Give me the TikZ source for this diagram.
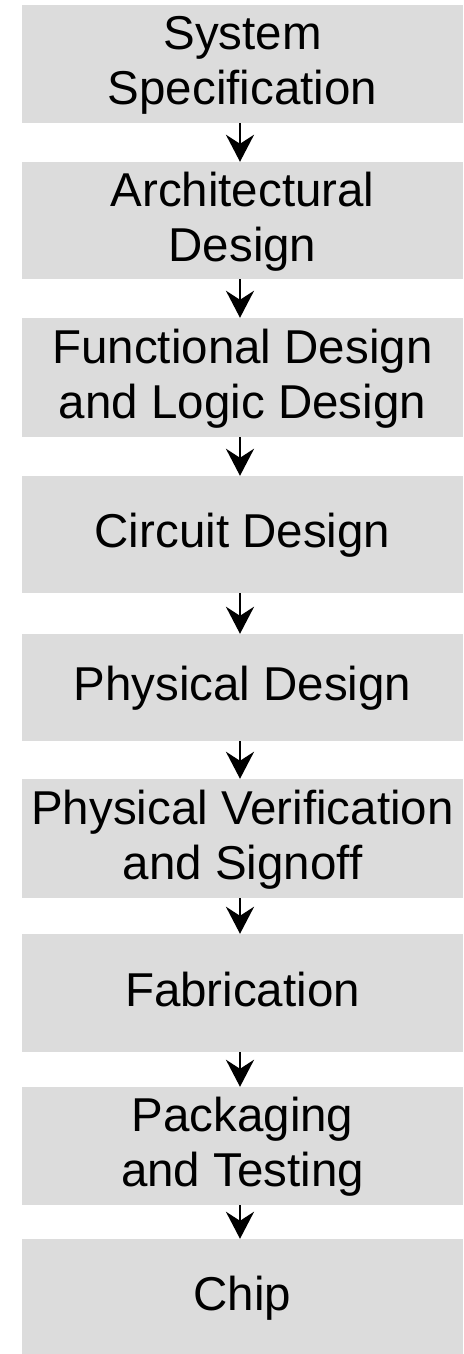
\documentclass[tikz,border=0pt]{standalone}
\usepackage{fontspec}
\setmainfont{Liberation Sans}
\usetikzlibrary{arrows.meta}
\definecolor{boxgray}{RGB}{220,220,220}
\newcommand\lstrut{\rule[-14.5pt]{0pt}{55pt}}
\begin{document}
\begin{tikzpicture}[
  stage/.style={fill=boxgray, draw=none, inner sep=0pt, minimum width=441pt,
    align=center, font=\fontsize{47.5}{55}\selectfont, text=black},
  flow/.style={line width=2.8pt, -{Stealth[length=27pt,width=28pt,inset=9pt]}}
]
\useasboundingbox (0pt,0pt) rectangle (463pt,-1354pt);
\coordinate (ax) at (240pt,0pt);
\node[stage, minimum height=118pt] (s1) at (242.5pt,-64pt) {\lstrut System\\\lstrut Specification};
\node[stage, minimum height=117pt] (s2) at (242.5pt,-220.5pt) {\lstrut Architectural\\\lstrut Design};
\node[stage, minimum height=119pt] (s3) at (242.5pt,-377.5pt) {\lstrut Functional Design\\\lstrut and Logic Design};
\node[stage, minimum height=117pt] (s4) at (242.5pt,-534.5pt) {\lstrut Circuit Design};
\node[stage, minimum height=107pt] (s5) at (242.5pt,-687.5pt) {\lstrut Physical Design};
\node[stage, minimum height=119pt] (s6) at (242.5pt,-838.5pt) {\lstrut Physical Verification\\\lstrut and Signoff};
\node[stage, minimum height=118pt] (s7) at (242.5pt,-993pt) {\lstrut Fabrication};
\node[stage, minimum height=118pt] (s8) at (242.5pt,-1146pt) {\lstrut Packaging\\\lstrut and Testing};
\node[stage, minimum height=116pt] (s9) at (242.5pt,-1297pt) {\lstrut Chip};
\foreach \a/\b in {s1/s2,s2/s3,s3/s4,s4/s5,s5/s6,s6/s7,s7/s8,s8/s9}
  \draw[flow] (\a.south -| ax) -- (\b.north -| ax);
\end{tikzpicture}
\end{document}
